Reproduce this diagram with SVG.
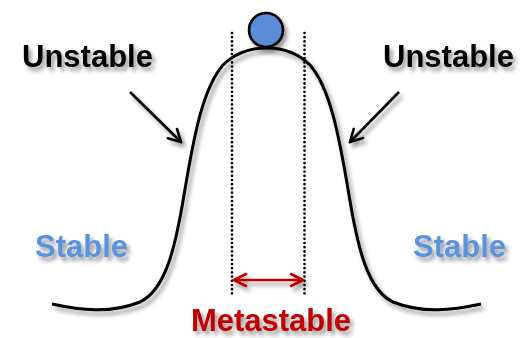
<svg xmlns="http://www.w3.org/2000/svg" width="522" height="338" viewBox="0 0 522 338">
  <defs>
    <filter id="sh" x="-20%" y="-20%" width="150%" height="160%">
      <feDropShadow dx="3" dy="4" stdDeviation="2.2" flood-color="#000" flood-opacity="0.4"/>
    </filter>
    <marker id="ahk" viewBox="0 0 16 16" refX="14" refY="8" markerWidth="16" markerHeight="16" markerUnits="userSpaceOnUse" orient="auto-start-reverse">
      <path d="M2,1.5 L14,8 L2,14.5" fill="none" stroke="#000" stroke-width="2.6" stroke-linecap="round" stroke-linejoin="miter"/>
    </marker>
    <marker id="ahr" viewBox="0 0 16 16" refX="14" refY="8" markerWidth="16" markerHeight="16" markerUnits="userSpaceOnUse" orient="auto-start-reverse">
      <path d="M2,2 L14,8 L2,14" fill="none" stroke="#c00000" stroke-width="2.6" stroke-linecap="round"/>
    </marker>
  </defs>
  <style>
    text { font-family: "Liberation Sans", Arial, sans-serif; font-weight: bold; font-size: 31px; }
    .unst { fill: #000; }
    .stab { fill: #5b92dc; }
    .meta { fill: #c00000; }
    .dot { stroke: #000; stroke-width: 2.7; stroke-dasharray: 0 4.2; stroke-linecap: round; fill: none; }
    .shd { filter: url(#sh); }
  </style>
  <rect width="522" height="338" fill="#fff"/>

  <g id="curve" class="shd">
    <path d="M52,304 C80,310 110,314 140,302 C165,290 175,250 184,195 C194,135 203,88 223,65 C238,50 255,48 266.5,48 C278,48 295,50 310,65 C330,88 339,135 349,195 C358,250 368,290 393,302 C423,314 453,310 481,304" fill="none" stroke="#000" stroke-width="3"/>
  </g>

  <g id="ball" class="shd">
    <circle cx="266" cy="30" r="17" fill="#5a8bd7" stroke="#000" stroke-width="2.6"/>
  </g>

  <g id="bounds">
    <line class="dot" x1="232" y1="33" x2="232" y2="294"/>
    <line class="dot" x1="304.5" y1="33" x2="304.5" y2="294"/>
  </g>

  <g id="connectors" class="shd">
    <line x1="130" y1="92" x2="181" y2="142" stroke="#000" stroke-width="2.6" marker-end="url(#ahk)"/>
    <line x1="399" y1="92" x2="350" y2="142" stroke="#000" stroke-width="2.6" marker-end="url(#ahk)"/>
    <line x1="234" y1="280" x2="303" y2="280" stroke="#c00000" stroke-width="2.6" marker-start="url(#ahr)" marker-end="url(#ahr)"/>
  </g>

  <g id="label-unstable-left" class="shd">
    <text class="unst" x="22" y="67">Unstable</text>
  </g>
  <g id="label-unstable-right" class="shd">
    <text class="unst" x="383" y="67">Unstable</text>
  </g>
  <g id="label-stable-left" class="shd">
    <text class="stab" x="35" y="257">Stable</text>
  </g>
  <g id="label-stable-right" class="shd">
    <text class="stab" x="413" y="257">Stable</text>
  </g>
  <g id="label-metastable" class="shd">
    <text class="meta" x="271" y="331" text-anchor="middle">Metastable</text>
  </g>
</svg>
